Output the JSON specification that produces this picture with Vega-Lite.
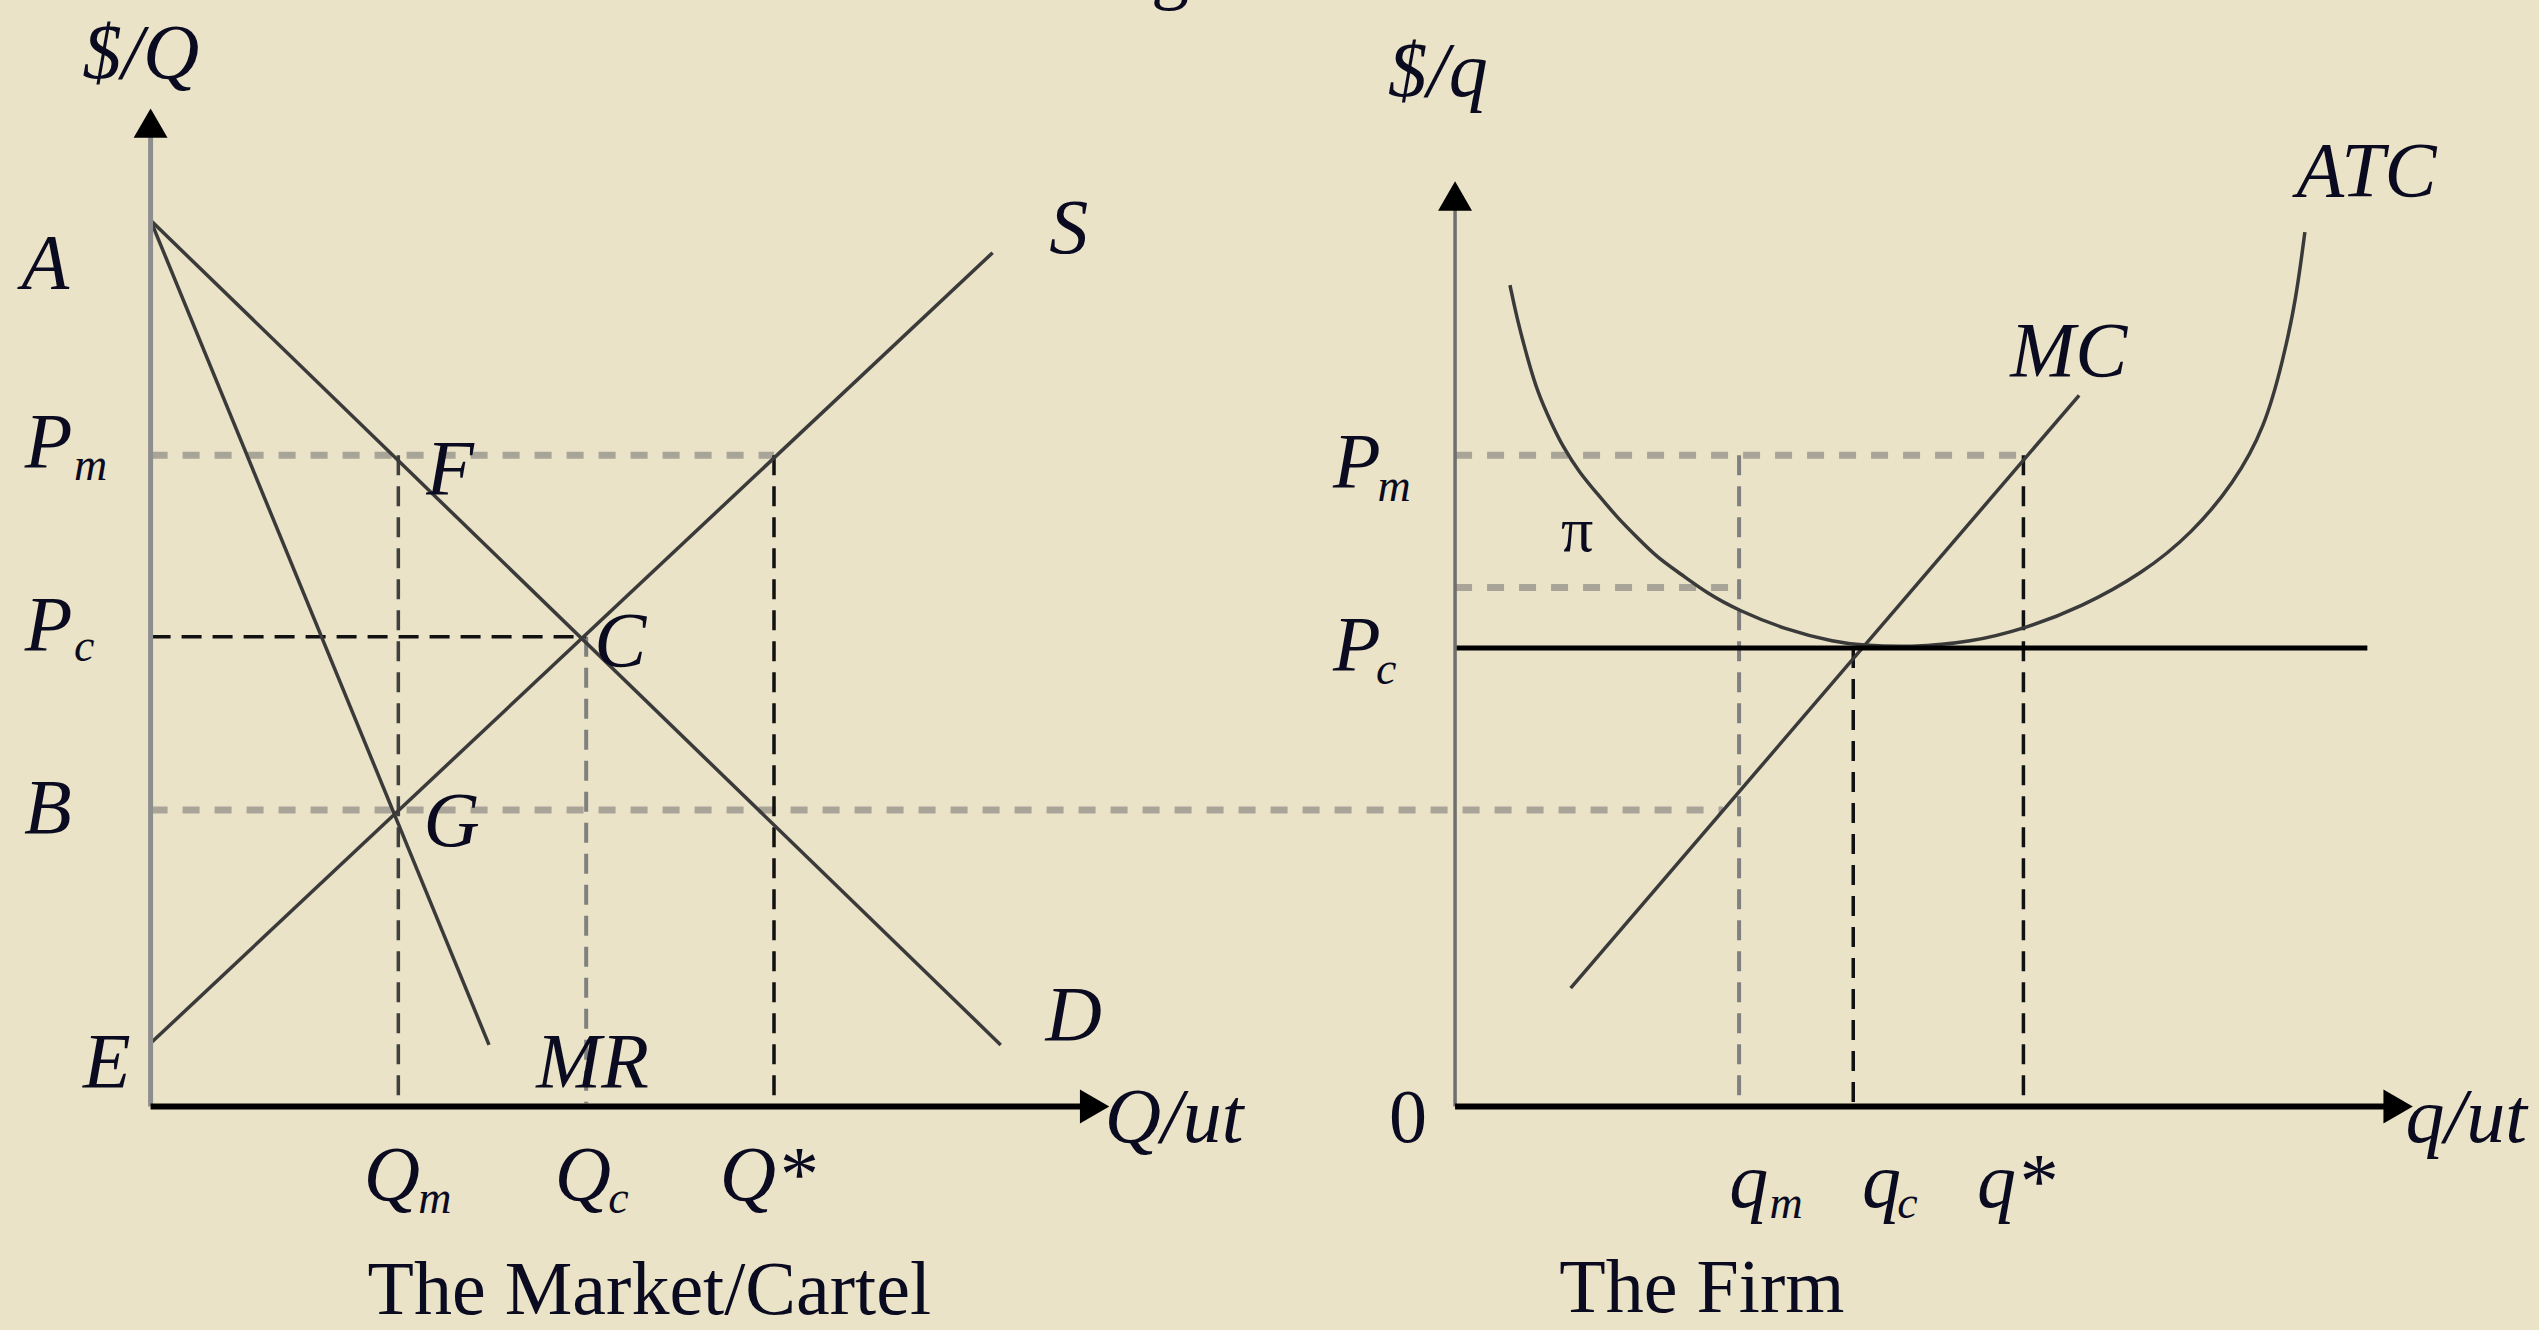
{
  "$schema": "https://vega.github.io/schema/vega-lite/v6.json",
  "width": 2539,
  "height": 1330,
  "autosize": {"type": "none"},
  "padding": 0,
  "background": "#EAE3C7",
  "config": {"view": {"stroke": null}},
  "datasets": {
    "segments": [
      {"name": "yaxisL", "kind": "axisGrayL", "x": 93, "y": 0, "x2": 93, "y2": 603},
      {"name": "xaxisL", "kind": "axisBlack", "x": 93, "y": 0, "x2": 668, "y2": 0},
      {"name": "yaxisR", "kind": "axisGrayR", "x": 898.6, "y": 0, "x2": 898.6, "y2": 558},
      {"name": "xaxisR", "kind": "axisBlack", "x": 898.6, "y": 0, "x2": 1473, "y2": 0},
      {"name": "D", "kind": "curve", "x": 93, "y": 547, "x2": 618, "y2": 38},
      {"name": "MR", "kind": "curve", "x": 93, "y": 547, "x2": 302, "y2": 38},
      {"name": "S", "kind": "curve", "x": 93, "y": 39, "x2": 613, "y2": 527},
      {"name": "MC", "kind": "curve", "x": 970, "y": 73, "x2": 1284, "y2": 439},
      {"name": "PmL", "kind": "dotGray", "x": 93, "y": 402, "x2": 478, "y2": 402},
      {"name": "B", "kind": "dotGray", "x": 93, "y": 183, "x2": 1064, "y2": 183},
      {"name": "PmR", "kind": "dotGray", "x": 898.6, "y": 402, "x2": 1249.6, "y2": 402},
      {"name": "pi", "kind": "dotGray", "x": 898.6, "y": 320.4, "x2": 1074, "y2": 320.4},
      {"name": "PcL", "kind": "dashBlack", "x": 93, "y": 290, "x2": 362, "y2": 290},
      {"name": "Qstar", "kind": "dashBlack", "x": 478, "y": 402, "x2": 478, "y2": 2},
      {"name": "Qm", "kind": "dashDark", "x": 246, "y": 402, "x2": 246, "y2": 2},
      {"name": "qstar", "kind": "dashBlack", "x": 1249.6, "y": 402, "x2": 1249.6, "y2": 2},
      {"name": "qc", "kind": "dashBlack", "x": 1144.5, "y": 283, "x2": 1144.5, "y2": 2},
      {"name": "Qc", "kind": "dashGray", "x": 362, "y": 290, "x2": 362, "y2": 2},
      {"name": "qm", "kind": "dashGray", "x": 1074, "y": 402, "x2": 1074, "y2": 2},
      {"name": "PcR", "kind": "solidBlack", "x": 898.6, "y": 283, "x2": 1462, "y2": 283}
    ],
    "atc": [
      {"x": 932.5, "y": 507}, {"x": 936.6, "y": 487.4}, {"x": 943.6, "y": 460.7},
      {"x": 949.8, "y": 440.3}, {"x": 957.2, "y": 423.6}, {"x": 965.2, "y": 407},
      {"x": 975.7, "y": 390.9}, {"x": 986.2, "y": 378.5}, {"x": 998.6, "y": 363.7},
      {"x": 1010.9, "y": 351.4}, {"x": 1023.3, "y": 339}, {"x": 1037.5, "y": 329.1},
      {"x": 1054.2, "y": 316.8}, {"x": 1073.3, "y": 306.3}, {"x": 1103.6, "y": 294},
      {"x": 1133.8, "y": 286.5}, {"x": 1149.3, "y": 284.7}, {"x": 1179.5, "y": 283.4},
      {"x": 1217.2, "y": 286.5}, {"x": 1251.2, "y": 295.2}, {"x": 1285.1, "y": 308.1},
      {"x": 1323.4, "y": 329.1}, {"x": 1353.7, "y": 353.8}, {"x": 1379.6, "y": 384.7},
      {"x": 1398.8, "y": 419.3}, {"x": 1409.9, "y": 460.7}, {"x": 1417.9, "y": 497.7},
      {"x": 1423.4, "y": 539.7}
    ],
    "arrows": [
      {"dir": "up", "x": 93, "y": 607},
      {"dir": "up", "x": 898.6, "y": 562},
      {"dir": "right", "x": 676, "y": 0},
      {"dir": "right", "x": 1481, "y": 0}
    ],
    "labels": [
      {"style": "plain", "text": "g", "x": 722.6, "y": 686},
      {"style": "main", "text": "$/Q", "x": 87, "y": 635},
      {"style": "main", "text": "A", "x": 28, "y": 505},
      {"style": "main", "text": "P", "x": 30, "y": 395},
      {"style": "sub", "text": "m", "x": 56, "y": 387},
      {"style": "main", "text": "P", "x": 30, "y": 282},
      {"style": "sub", "text": "c", "x": 52, "y": 275},
      {"style": "main", "text": "B", "x": 29.5, "y": 169},
      {"style": "main", "text": "E", "x": 66, "y": 12},
      {"style": "main", "text": "F", "x": 278, "y": 378},
      {"style": "main", "text": "C", "x": 383, "y": 272},
      {"style": "main", "text": "G", "x": 279, "y": 161},
      {"style": "main", "text": "S", "x": 660, "y": 527},
      {"style": "main", "text": "D", "x": 663, "y": 41},
      {"style": "main", "text": "MR", "x": 366, "y": 12},
      {"style": "main", "text": "Q/ut", "x": 725, "y": -22},
      {"style": "main", "text": "Q", "x": 242, "y": -58},
      {"style": "sub", "text": "m", "x": 268.6, "y": -66},
      {"style": "main", "text": "Q", "x": 360, "y": -58},
      {"style": "sub", "text": "c", "x": 382, "y": -66},
      {"style": "main", "text": "Q*", "x": 474, "y": -58},
      {"style": "plain", "text": "The Market/Cartel", "x": 401, "y": -128},
      {"style": "main", "text": "$/q", "x": 888, "y": 624},
      {"style": "main", "text": "ATC", "x": 1461.5, "y": 562},
      {"style": "main", "text": "MC", "x": 1277.6, "y": 451},
      {"style": "main", "text": "P", "x": 838, "y": 382.5},
      {"style": "sub", "text": "m", "x": 861, "y": 374},
      {"style": "pi", "text": "π", "x": 974, "y": 343},
      {"style": "main", "text": "P", "x": 838, "y": 269.4},
      {"style": "sub", "text": "c", "x": 856, "y": 261},
      {"style": "plain", "text": "0", "x": 869.6, "y": -22},
      {"style": "main", "text": "q/ut", "x": 1523, "y": -22},
      {"style": "main", "text": "q", "x": 1080, "y": -62},
      {"style": "sub", "text": "m", "x": 1103, "y": -69},
      {"style": "main", "text": "q", "x": 1162, "y": -62},
      {"style": "sub", "text": "c", "x": 1178, "y": -69},
      {"style": "main", "text": "q*", "x": 1245, "y": -62},
      {"style": "plain", "text": "The Firm", "x": 1051, "y": -127}
    ]
  },
  "encoding": {
    "x": {"field": "x", "type": "quantitative", "scale": {"domain": [0, 1568], "nice": false, "zero": false}, "axis": null},
    "y": {"field": "y", "type": "quantitative", "scale": {"domain": [-138, 683], "nice": false, "zero": false}, "axis": null}
  },
  "layer": [
    {
      "data": {"name": "segments"},
      "transform": [{"filter": "datum.kind === 'dotGray'"}],
      "mark": {"type": "rule", "color": "#A9A498", "strokeWidth": 7, "strokeDash": [17, 15]},
      "encoding": {"x2": {"field": "x2"}, "y2": {"field": "y2"}}
    },
    {
      "data": {"name": "segments"},
      "transform": [{"filter": "datum.kind === 'dashGray'"}],
      "mark": {"type": "rule", "color": "#808080", "strokeWidth": 4, "strokeDash": [20, 11]},
      "encoding": {"x2": {"field": "x2"}, "y2": {"field": "y2"}}
    },
    {
      "data": {"name": "segments"},
      "transform": [{"filter": "datum.kind === 'dashDark'"}],
      "mark": {"type": "rule", "color": "#404040", "strokeWidth": 3.5, "strokeDash": [20, 11]},
      "encoding": {"x2": {"field": "x2"}, "y2": {"field": "y2"}}
    },
    {
      "data": {"name": "segments"},
      "transform": [{"filter": "datum.kind === 'dashBlack'"}],
      "mark": {"type": "rule", "color": "#111111", "strokeWidth": 3.5, "strokeDash": [20, 11]},
      "encoding": {"x2": {"field": "x2"}, "y2": {"field": "y2"}}
    },
    {
      "data": {"name": "segments"},
      "transform": [{"filter": "datum.kind === 'curve'"}],
      "mark": {"type": "rule", "color": "#3A3A3A", "strokeWidth": 3.5},
      "encoding": {"x2": {"field": "x2"}, "y2": {"field": "y2"}}
    },
    {
      "data": {"name": "atc"},
      "mark": {"type": "line", "color": "#3A3A3A", "strokeWidth": 3.5, "interpolate": "basis"},
      "encoding": {}
    },
    {
      "data": {"name": "segments"},
      "transform": [{"filter": "datum.kind === 'solidBlack'"}],
      "mark": {"type": "rule", "color": "#000000", "strokeWidth": 5},
      "encoding": {"x2": {"field": "x2"}, "y2": {"field": "y2"}}
    },
    {
      "data": {"name": "segments"},
      "transform": [{"filter": "datum.kind === 'axisGrayL'"}],
      "mark": {"type": "rule", "color": "#8E8E8E", "strokeWidth": 5},
      "encoding": {"x2": {"field": "x2"}, "y2": {"field": "y2"}}
    },
    {
      "data": {"name": "segments"},
      "transform": [{"filter": "datum.kind === 'axisGrayR'"}],
      "mark": {"type": "rule", "color": "#6E6E6E", "strokeWidth": 3.5},
      "encoding": {"x2": {"field": "x2"}, "y2": {"field": "y2"}}
    },
    {
      "data": {"name": "segments"},
      "transform": [{"filter": "datum.kind === 'axisBlack'"}],
      "mark": {"type": "rule", "color": "#000000", "strokeWidth": 6},
      "encoding": {"x2": {"field": "x2"}, "y2": {"field": "y2"}}
    },
    {
      "data": {"name": "arrows"},
      "transform": [{"filter": "datum.dir === 'up'"}],
      "mark": {"type": "point", "shape": "triangle-up", "filled": true, "color": "#000000", "size": 1150, "opacity": 1}
    },
    {
      "data": {"name": "arrows"},
      "transform": [{"filter": "datum.dir === 'right'"}],
      "mark": {"type": "point", "shape": "triangle-right", "filled": true, "color": "#000000", "size": 1150, "opacity": 1}
    },
    {
      "data": {"name": "labels"},
      "transform": [{"filter": "datum.style === 'main'"}],
      "mark": {"type": "text", "font": "Liberation Serif", "fontStyle": "italic", "fontSize": 78, "align": "center", "baseline": "alphabetic", "color": "#0A0A20"},
      "encoding": {"text": {"field": "text"}}
    },
    {
      "data": {"name": "labels"},
      "transform": [{"filter": "datum.style === 'sub'"}],
      "mark": {"type": "text", "font": "Liberation Serif", "fontStyle": "italic", "fontSize": 46, "align": "center", "baseline": "alphabetic", "color": "#0A0A20"},
      "encoding": {"text": {"field": "text"}}
    },
    {
      "data": {"name": "labels"},
      "transform": [{"filter": "datum.style === 'plain'"}],
      "mark": {"type": "text", "font": "Liberation Serif", "fontSize": 76, "align": "center", "baseline": "alphabetic", "color": "#0A0A20"},
      "encoding": {"text": {"field": "text"}}
    },
    {
      "data": {"name": "labels"},
      "transform": [{"filter": "datum.style === 'pi'"}],
      "mark": {"type": "text", "font": "Liberation Serif", "fontSize": 64, "align": "center", "baseline": "alphabetic", "color": "#0A0A20"},
      "encoding": {"text": {"field": "text"}}
    }
  ]
}
